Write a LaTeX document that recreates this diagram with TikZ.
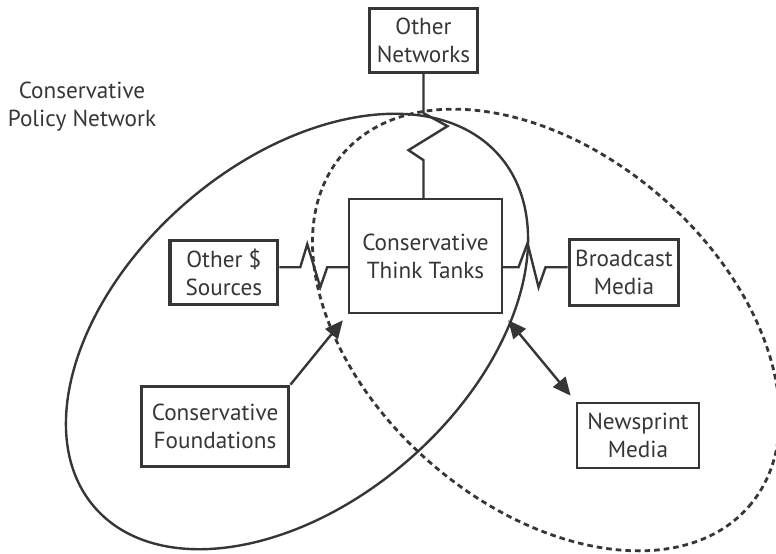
\documentclass[tikz,border=0pt]{standalone}
\usepackage{fontspec}
\setmainfont{PT Sans}
\usepackage{tikz}
\usetikzlibrary{arrows.meta, positioning}
\definecolor{ink}{HTML}{363636}
\tikzset{
>={Triangle[length=0.45cm, width=0.4cm]}, % big filled arrow heads
node distance=5cm, % distance of the outer boxes from the think tanks
thickbox/.style={draw=ink, line width=0.09cm, fill=white, align=center, text=ink}, % heavy frame
thinbox/.style={thickbox, line width=0.06cm}, % light frame
link/.style={draw=ink, line width=0.06cm, line join=miter}, % connectors
}

\begin{document}
\begin{tikzpicture}[x=0.025cm, y=-0.025cm, font=\fontsize{16.5}{20}\selectfont]
  \useasboundingbox (0,0) rectangle (776,553);
  % the two networks
  \draw[ink, line width=0.06cm, rotate around={41:(297,331.5)}] (297,331.5) ellipse [x radius=6.7cm, y radius=4.25cm];
  \draw[ink, line width=0.07cm, dash pattern=on 0.14cm off 0.1cm, rotate around={-41:(546,330)}] (546,330) ellipse [x radius=6.72cm, y radius=4.4cm];
  \node[text=ink, align=center] (cpn) at (82,107) {Conservative\\Policy Network};

  \node[thinbox, minimum width=3.82cm, minimum height=2.84cm] (tt) at (425.5,256) {Conservative\\Think Tanks};
  \node[thickbox, minimum width=2.7cm, minimum height=1.6cm, above of=tt, xshift=-0.05cm, yshift=0.39cm] (net) {Other\\Networks};
  \node[thickbox, minimum width=2.68cm, minimum height=1.6cm, left of=tt, xshift=-0.04cm, yshift=-0.41cm] (srcs) {Other \$\\Sources};
  \node[thickbox, minimum width=2.73cm, minimum height=1.65cm, right of=tt, xshift=-0.04cm, yshift=-0.41cm] (bcast) {Broadcast\\Media};
  \node[thickbox, minimum width=3.68cm, minimum height=2cm, left of=tt, xshift=-0.26cm, yshift=-4.26cm] (fnd) {Conservative\\Foundations};
  \node[thinbox, minimum width=3.05cm, minimum height=1.63cm, right of=tt, xshift=0.31cm, yshift=-4.49cm] (news) {Newsprint\\Media};

  % zigzag links
  \draw[link] (net.south) -- ++(0,39) -- ++(24,13) -- ++(-39,24) -- ++(15,10) -- (net.south |- tt.north);
  \draw[link] ([yshift=0.13cm]srcs.east) coordinate (sl) -- ++(21,0) -- ++(7,-23) -- ++(13,43) -- ++(7,-20) -- (sl -| tt.west);
  \draw[link] ([yshift=0.13cm]bcast.west) coordinate (bl) -- ++(-22,0) -- ++(-7,20) -- ++(-11,-44) -- ++(-9,24) -- (bl -| tt.east);
  % arrows
  \draw[link, ->, shorten >=0.2cm] (fnd.north east) -- (tt.south west);
  \draw[link, <->, shorten <=0.2cm, shorten >=0.2cm] (tt.south east) -- (news.north west);
\end{tikzpicture}
\end{document}
